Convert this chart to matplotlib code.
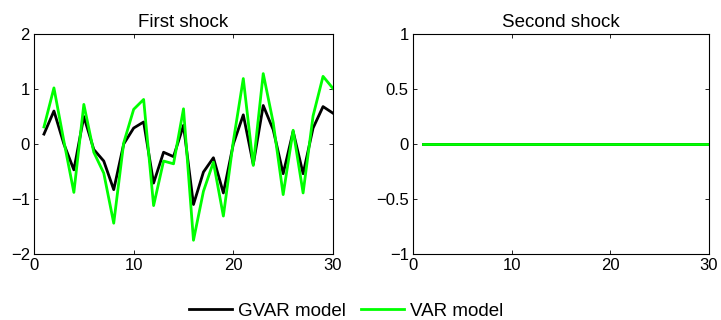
import numpy as np
import matplotlib
matplotlib.use('Agg')
import matplotlib.pyplot as plt

plt.rcParams['font.family'] = ['Liberation Sans', 'DejaVu Sans']

horizon = list(range(1, 31))

# first shock responses
gvar_first = [0.18, 0.60, 0.00, -0.47, 0.50, -0.10, -0.31, -0.83, 0.00, 0.29,
              0.40, -0.71, -0.15, -0.23, 0.34, -1.10, -0.51, -0.25, -0.89, 0.00,
              0.53, -0.37, 0.70, 0.26, -0.54, 0.23, -0.54, 0.29, 0.68, 0.56]
var_first = [0.31, 1.02, 0.05, -0.88, 0.72, -0.15, -0.53, -1.44, 0.02, 0.63,
             0.81, -1.12, -0.31, -0.36, 0.64, -1.75, -0.86, -0.33, -1.31, 0.05,
             1.19, -0.39, 1.28, 0.39, -0.92, 0.25, -0.89, 0.51, 1.23, 1.01]

# second shock responses (flat)
gvar_second = [0.0] * 30
var_second = [0.0] * 30

titles = ['First shock', 'Second shock']
ylims = [(-2, 2), (-1, 1)]
yticks = [[-2, -1, 0, 1, 2], [-1, -0.5, 0, 0.5, 1]]
yticklabels = [['\u22122', '\u22121', '0', '1', '2'],
               ['\u22121', '\u22120.5', '0', '0.5', '1']]

fig = plt.figure(figsize=(7.21, 3.2), dpi=100)
ax1 = fig.add_axes([34 / 721, 1 - 254 / 320, 299 / 721, 220 / 320])
ax2 = fig.add_axes([413 / 721, 1 - 254 / 320, 296 / 721, 220 / 320])

series = [(gvar_first, var_first), (gvar_second, var_second)]
for i, ax in enumerate([ax1, ax2]):
    g, v = series[i]
    lg, = ax.plot(horizon, g, color='black', lw=2, label='GVAR model')
    lv, = ax.plot(horizon, v, color='#00ff00', lw=2, label='VAR model')
    ax.set_xlim(0, 30)
    ax.set_ylim(*ylims[i])
    ax.set_xticks([0, 10, 20, 30])
    ax.set_yticks(yticks[i])
    ax.set_yticklabels(yticklabels[i])
    ax.set_title(titles[i], fontsize=13.5, pad=5)
    ax.tick_params(direction='in', top=True, right=True, labelsize=12,
                   length=3, width=0.6, pad=3)
    for s in ax.spines.values():
        s.set_linewidth(0.8)

fig.legend([lg, lv], ['GVAR model', 'VAR model'], loc='center',
           bbox_to_anchor=(346 / 721, 1 - 311 / 320), ncol=2, frameon=False,
           fontsize=13.5, handlelength=2.3, columnspacing=0.8, handletextpad=0.3)

fig.savefig('out.png', dpi=100)
